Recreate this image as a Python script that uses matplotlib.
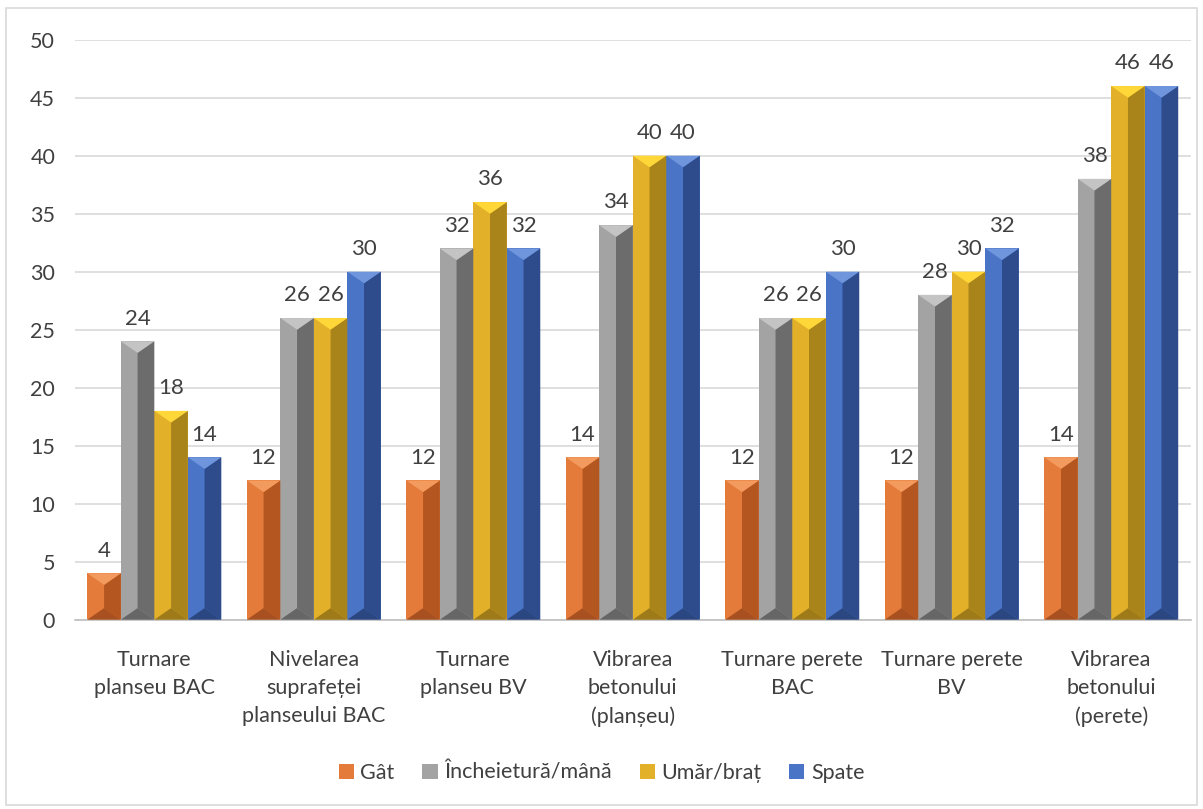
import numpy as np
import matplotlib
matplotlib.use("Agg")
import matplotlib.pyplot as plt
from matplotlib.patches import Polygon, Rectangle

plt.rcParams['font.family'] = ['Lato', 'DejaVu Sans']

# date
categorii = ["Turnare\nplanseu BAC", "Nivelarea\nsuprafeței\nplanseului BAC",
             "Turnare\nplanseu BV", "Vibrarea\nbetonului\n(planșeu)",
             "Turnare perete\nBAC", "Turnare perete\nBV",
             "Vibrarea\nbetonului\n(perete)"]
serii = ["Gât", "Încheietură/mână", "Umăr/braț", "Spate"]
gat = [4, 12, 12, 14, 12, 12, 14]
incheietura = [24, 26, 32, 34, 26, 28, 38]
umar = [18, 26, 36, 40, 26, 30, 46]
spate = [14, 30, 32, 40, 30, 32, 46]
valori = [gat, incheietura, umar, spate]

# culori: (fata stanga, fata dreapta, sus, jos)
culori = [
    ("#E47B3A", "#B4561F", "#F39A5E", "#A85020"),
    ("#A3A3A3", "#6C6C6C", "#C4C4C4", "#666666"),
    ("#E3B02A", "#A9841B", "#FFD739", "#9E7B18"),
    ("#4A74C6", "#2E4C8C", "#6F95DD", "#2B4782"),
]

fig = plt.figure(figsize=(12.03, 8.09), dpi=100)
ax = fig.add_axes([0.062, 0.234, 0.928, 0.717])

x = np.arange(len(categorii))
w = 0.21
adanc = 1.0  # adancimea tesiturii (unitati y)

for i, (nume, val, c) in enumerate(zip(serii, valori, culori)):
    bare = ax.bar(x + (i - 1.5) * w, val, w, color=c[0], label=nume,
                  linewidth=0, zorder=2)
    for b in bare:
        x0, y0 = b.get_x(), b.get_y()
        bw, bh = b.get_width(), b.get_height()
        xc = x0 + bw / 2
        d = min(adanc, bh / 2)
        top, bot = y0 + bh, y0
        ax.add_patch(Polygon([(xc, top - d), (x0 + bw, top), (x0 + bw, bot),
                              (xc, bot + d)], closed=True, color=c[1],
                             lw=0, zorder=3))
        ax.add_patch(Polygon([(x0, top), (x0 + bw, top), (xc, top - d)],
                             closed=True, color=c[2], lw=0, zorder=4))
        ax.add_patch(Polygon([(x0, bot), (x0 + bw, bot), (xc, bot + d)],
                             closed=True, color=c[3], lw=0, zorder=4))
        ax.text(xc, top + 1.1, f"{bh:g}", ha="center", va="bottom",
                fontsize=16, color="#404040")

ax.set_ylim(0, 50)
ax.set_xlim(-0.5, len(categorii) - 0.5)
ax.set_yticks(np.arange(0, 51, 5))
ax.set_xticks(x)
ax.set_xticklabels(categorii, fontsize=15.5, color="#404040", linespacing=1.5)
ax.tick_params(axis="y", labelsize=15.5, labelcolor="#404040", length=0, pad=14)
ax.tick_params(axis="x", length=0, pad=22)
ax.grid(axis="y", color="#D9D9D9", lw=1.2, zorder=0)
ax.set_axisbelow(True)
for s in ["top", "right", "left"]:
    ax.spines[s].set_visible(False)
ax.spines["bottom"].set_color("#BFBFBF")
ax.spines["bottom"].set_linewidth(1.2)

leg = fig.legend(loc="center", bbox_to_anchor=(0.5, 0.045), ncol=4,
                 frameon=False, fontsize=15.5, handlelength=0.7,
                 handleheight=0.7, handletextpad=0.3, columnspacing=1.3)
for t in leg.get_texts():
    t.set_color("#404040")

# chenar exterior
fig.patches.append(Rectangle((0.005, 0.005), 0.99, 0.985, transform=fig.transFigure,
                             fill=False, edgecolor="#D9D9D9", lw=1.2))

fig.savefig("out.png", dpi=100)
